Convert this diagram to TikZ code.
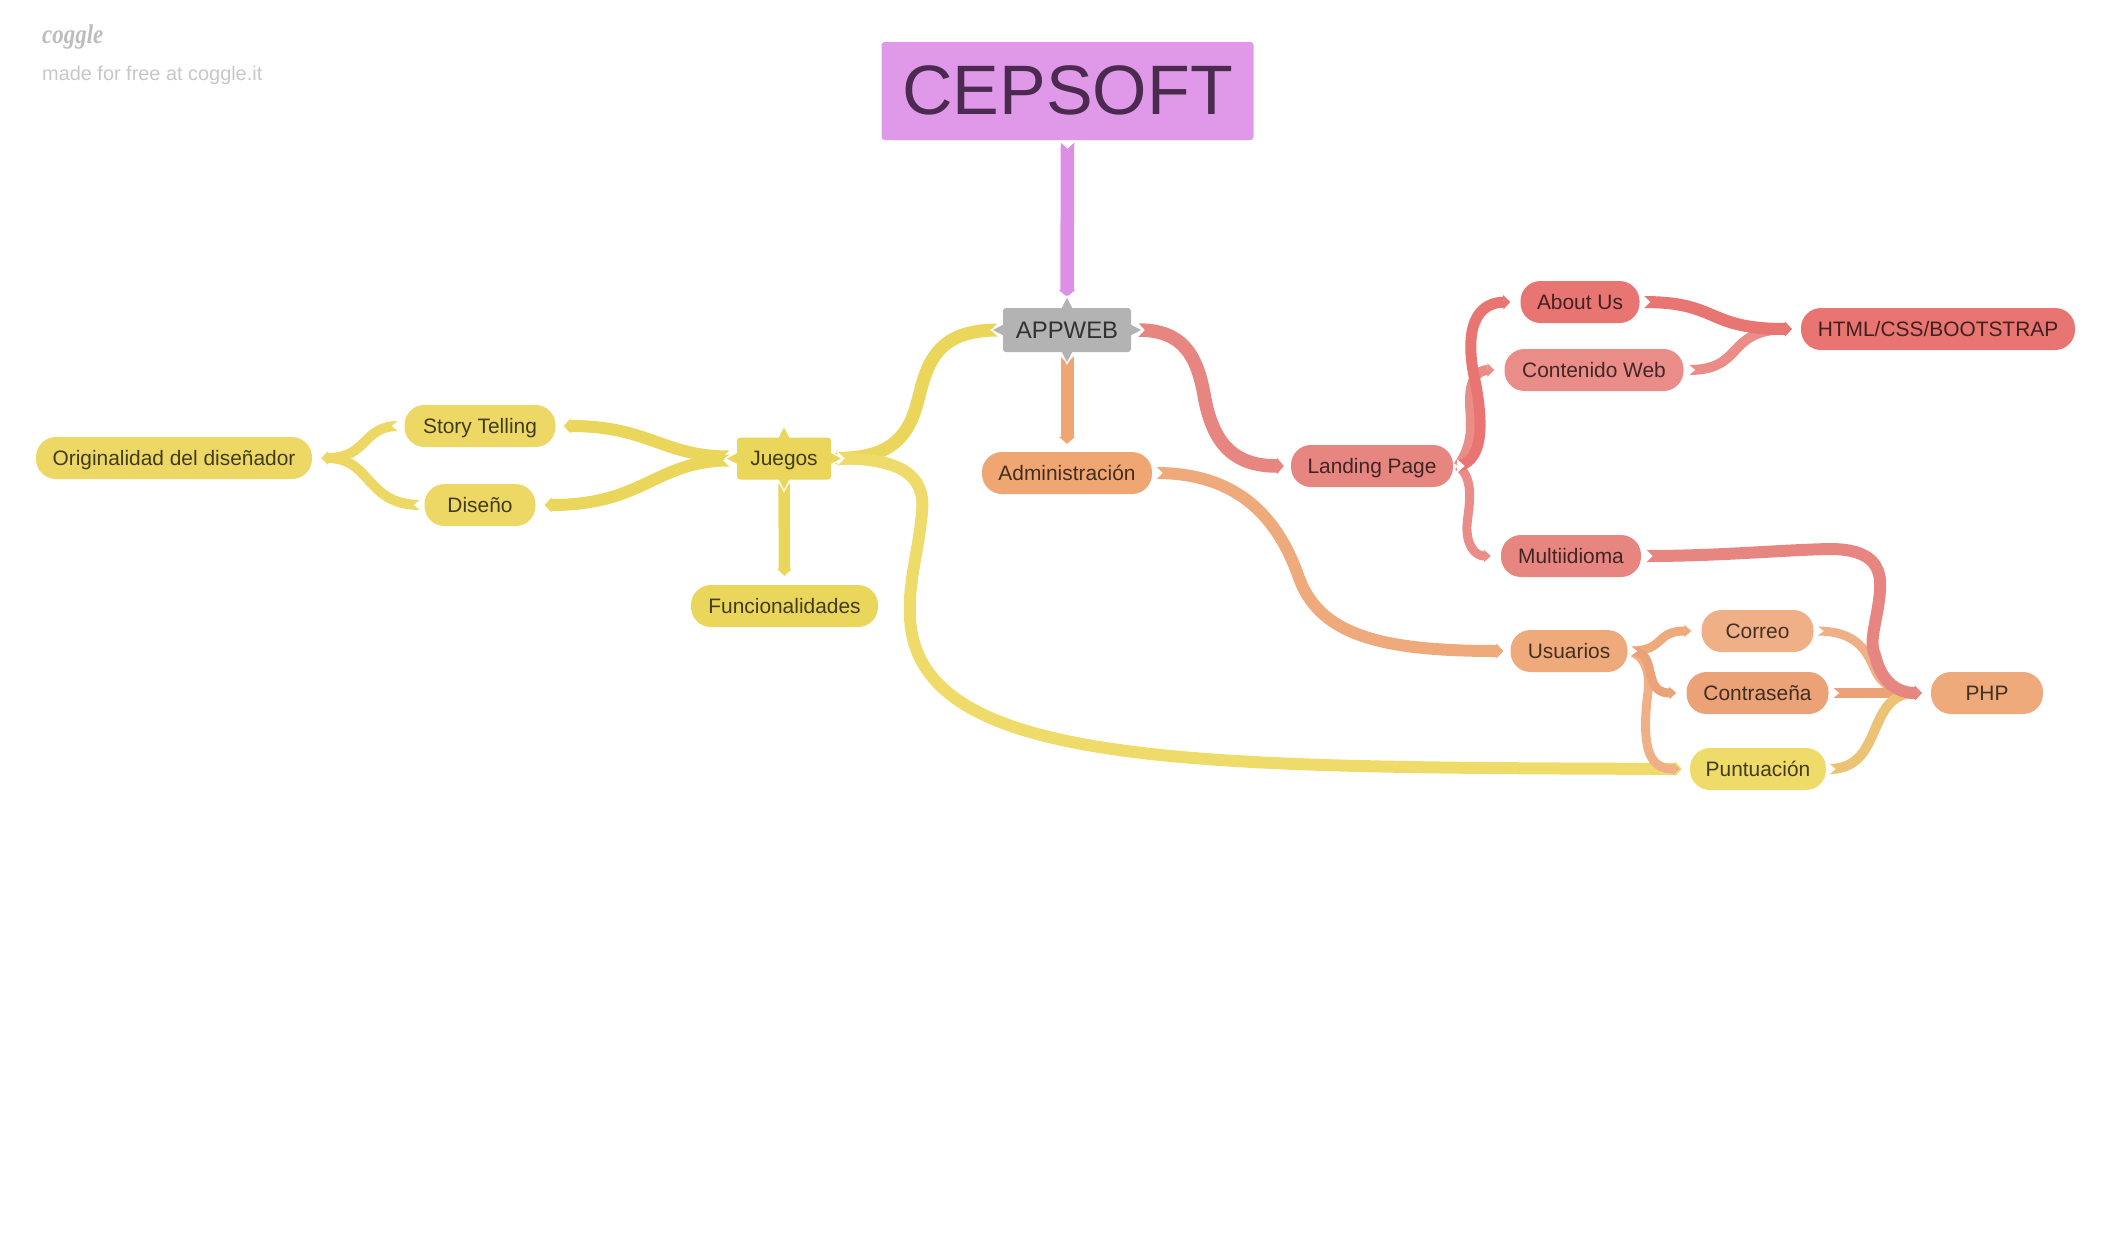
\documentclass[tikz,border=0pt]{standalone}
\usepackage{fontspec}
\setmainfont{Liberation Sans}
\newfontfamily\logofont{Liberation Serif}
\usetikzlibrary{arrows.meta,calc}
\pgfdeclarelayer{edges}
\pgfsetlayers{edges,main}
\definecolor{cPink}{HTML}{E099E9}
\definecolor{cPinkL}{HTML}{DD8FE7}
\definecolor{cepText}{HTML}{4A2A4E}
\definecolor{cGrey}{HTML}{B3B3B3}
\definecolor{cYel}{HTML}{EBD65C}
\definecolor{cYelB}{HTML}{EDD866}
\definecolor{cYelC}{HTML}{EEDB69}
\definecolor{cRed}{HTML}{E87572}
\definecolor{cRedB}{HTML}{E78681}
\definecolor{cRedC}{HTML}{EA8C87}
\definecolor{cOrA}{HTML}{F0A672}
\definecolor{cOrB}{HTML}{EFAA7B}
\definecolor{cOrC}{HTML}{EFAF87}
\definecolor{cOrD}{HTML}{EBA277}
\definecolor{cMix}{HTML}{ECC274}
\tikzset{
  pill/.style={fill=#1,draw=none,rectangle,rounded corners=20pt,minimum height=42pt,inner sep=0pt,font=\fontsize{20.9}{24}\selectfont,text=black!72!#1,text height=14.5pt,text depth=0pt},
  box/.style={fill=#1,draw=none,rectangle,rounded corners=3pt,inner sep=0pt,font=\fontsize{20.9}{24}\selectfont,text=black!72!#1,text height=14.5pt,text depth=0pt},
  ribbonline/.style={-{Triangle[length=7pt,width=3pt 1]},line cap=butt,line join=round},
  logotext/.style={inner sep=0pt,anchor=west,text=black!22}
}
% ribbon: colour, width, start point, start direction, rest of the path
\newcommand{\ribbon}[5]{%
  \draw[ribbonline,draw=#1,line width=#2pt] (#3) #5;
  \fill[white,shift={(#3)},rotate=#4] (-1pt,{(#2/2+1.2)*1pt}) -- (6.5pt,0pt) -- (-1pt,{-(#2/2+1.2)*1pt}) -- cycle;
}
% spike of a rectangular node
\newcommand{\spike}[3]{%
  \filldraw[fill=#1,draw=white,line width=1.2pt,shift={(#2)},rotate=#3] (-2pt,7pt) -- (11.5pt,0pt) -- (-2pt,-7pt) -- cycle;
}
\begin{document}
\begin{tikzpicture}[x=1pt,y=-1pt]
\useasboundingbox (0,0) rectangle (2110,1240);
% nodes
\node[box=cPink,minimum width=372pt,minimum height=98pt,font=\fontsize{70}{72}\selectfont,text=cepText,text height=47pt] (cep) at (1067.5,91) {CEPSOFT};
\node[box=cGrey,minimum width=128pt,minimum height=44pt,font=\fontsize{23.9}{26}\selectfont,text height=17pt] (app) at (1067,330) {APPWEB};
\node[box=cYel,minimum width=94pt,minimum height=42pt] (jue) at (784,458.5) {Juegos};
\node[pill=cYel,minimum width=187pt] (fun) at (784.5,606) {Funcionalidades};
\node[pill=cOrA,minimum width=170pt] (adm) at (1067,473) {Administración};
\node[pill=cYelB,minimum width=276pt] (ori) at (174,458) {Originalidad del diseñador};
\node[pill=cYelB,minimum width=151pt] (sto) at (480,426) {Story Telling};
\node[pill=cYelB,minimum width=111pt] (dis) at (480,505) {Diseño};
\node[pill=cRedB,minimum width=162pt] (lan) at (1372,466) {Landing Page};
\node[pill=cRed,minimum width=119pt] (abo) at (1580,302) {About Us};
\node[pill=cRedC,minimum width=179pt] (con) at (1594,370) {Contenido Web};
\node[pill=cRed,minimum width=274pt] (htm) at (1938,329) {HTML/CSS/BOOTSTRAP};
\node[pill=cRedB,minimum width=140pt] (mul) at (1571,556) {Multiidioma};
\node[pill=cOrB,minimum width=117pt] (usu) at (1569,651) {Usuarios};
\node[pill=cOrC,minimum width=112pt] (cor) at (1757.5,631) {Correo};
\node[pill=cOrD,minimum width=142pt] (cla) at (1757.5,693) {Contraseña};
\node[pill=cYelC,minimum width=136pt] (pun) at (1758,769) {Puntuación};
\node[pill=cOrB,minimum width=112pt] (php) at (1987,693) {PHP};
% logo
\node[logotext,font=\logofont\bfseries\itshape\fontsize{27}{30}\selectfont,text=black!26,xscale=0.85,transform shape] (logo) at (42,37) {coggle};
\node[logotext,font=\fontsize{19.9}{24}\selectfont,text height=14pt,text depth=0pt] (made) at (42,73) {made for free at coggle.it};

\begin{pgfonlayer}{edges}
\ribbon{cPinkL}{13.5}{[yshift=-2pt]cep.south}{270}{-- ([yshift=11pt]app.north)}
\ribbon{cOrA}{13}{[yshift=-4pt]app.south}{270}{-- ([yshift=8pt]adm.north)}
\ribbon{cYel}{11.5}{[yshift=-3pt]jue.south}{270}{-- ([yshift=9pt]fun.north)}
\ribbon{cYel}{13}{[xshift=-5pt]app.west}{180}{.. controls (935,330) and (927,365) .. (918,400) .. controls (908,442) and (885,458) .. (jue.east)}
\ribbon{cRedB}{13.5}{[xshift=7pt]app.east}{0}{.. controls (1185,330) and (1198,358) .. (1205,400) .. controls (1214,445) and (1235,466) .. ([xshift=-7pt]lan.west)}
\ribbon{cOrB}{12}{[xshift=4pt]adm.east}{0}{.. controls (1240,473) and (1278,520) .. (1298,575) .. controls (1318,635) and (1380,651) .. ([xshift=-7pt]usu.west)}
\ribbon{cYelC}{12}{[xshift=7pt]jue.east}{0}{.. controls (900,458) and (926,475) .. (922,512) .. controls (919,550) and (908,580) .. (910,618) .. controls (918,770) and (1200,767) .. ([xshift=-8pt]pun.west)}
\ribbon{cYel}{12}{[xshift=-7pt,yshift=2pt]jue.west}{180}{.. controls (662,456.5) and (650,426) .. ([xshift=8pt]sto.east)}
\ribbon{cYel}{12}{[xshift=-7pt,yshift=-2pt]jue.west}{180}{.. controls (655,460.5) and (645,505) .. ([xshift=9pt]dis.east)}
\ribbon{cYelB}{10}{[xshift=-6pt]sto.west}{180}{.. controls (362,426) and (368,458) .. ([xshift=9pt]ori.east)}
\ribbon{cYelB}{10}{[xshift=-4pt]dis.west}{180}{.. controls (365,505) and (372,458) .. ([xshift=9pt]ori.east)}
\ribbon{cRedC}{10}{[xshift=5pt]lan.east}{0}{.. controls (1476,440) and (1470,420) .. (1470,400) .. controls (1470,382) and (1476,370) .. ([xshift=-10pt]con.west)}
\ribbon{cRedC}{9}{[xshift=5pt]lan.east}{0}{.. controls (1476,480) and (1468,510) .. (1467,525) .. controls (1466,545) and (1475,556) .. ([xshift=-10pt]mul.west)}
\ribbon{cRed}{11}{[xshift=5pt]lan.east}{0}{.. controls (1485,460) and (1482,420) .. (1476,385) .. controls (1465,340) and (1470,303) .. ([xshift=-10pt]abo.west)}
\ribbon{cRedC}{10}{[xshift=5pt]con.east}{0}{.. controls (1745,370) and (1725,330) .. ([xshift=-9pt]htm.west)}
\ribbon{cRed}{12}{[xshift=4pt]abo.east}{0}{.. controls (1720,302) and (1705,329) .. ([xshift=-9pt]htm.west)}
\ribbon{cOrC}{9}{[xshift=3pt]usu.east}{0}{.. controls (1650,660) and (1650,680) .. (1647,700) .. controls (1642,750) and (1650,769) .. ([xshift=-10pt]pun.west)}
\ribbon{cOrB}{9}{[xshift=3pt]usu.east}{0}{.. controls (1665,651) and (1655,631) .. ([xshift=-10pt]cor.west)}
\ribbon{cOrD}{9}{[xshift=3pt]usu.east}{0}{.. controls (1660,651) and (1640,693) .. ([xshift=-10pt]cla.west)}
\ribbon{cOrC}{9}{[xshift=3.5pt]cor.east}{0}{.. controls (1860,631) and (1868,655) .. (1875,670) .. controls (1882,685) and (1895,693) .. ([xshift=-9pt]php.west)}
\ribbon{cOrD}{10}{[xshift=4pt]cla.east}{0}{-- ([xshift=-9pt]php.west)}
\ribbon{cMix}{10}{[xshift=3pt]pun.east}{0}{.. controls (1885,769) and (1865,693) .. ([xshift=-9pt]php.west)}
\ribbon{cRedB}{12}{[xshift=5pt]mul.east}{0}{.. controls (1720,556) and (1780,550) .. (1830,549) .. controls (1870,549) and (1882,565) .. (1880,590) .. controls (1878,620) and (1868,640) .. (1875,655) .. controls (1882,685) and (1900,693) .. ([xshift=-9pt]php.west)}
% spikes of the rectangular nodes
\foreach \a/\r in {north/90,south/270,west/180,east/0}{
  \spike{cGrey}{app.\a}{\r}
  \spike{cYel}{jue.\a}{\r}
}
\end{pgfonlayer}
\end{tikzpicture}
\end{document}
